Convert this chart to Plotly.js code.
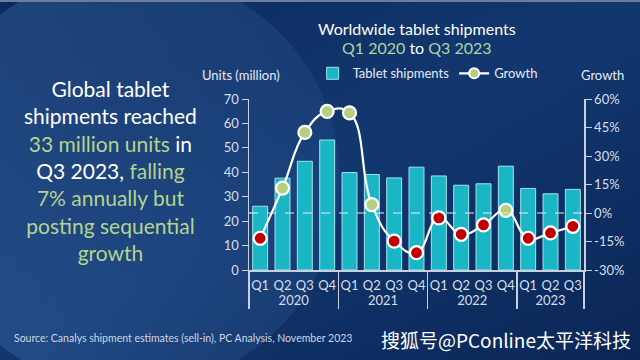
<!DOCTYPE html>
<html><head><meta charset="utf-8">
<script src="https://cdn.plot.ly/plotly-3.0.1.min.js"></script>
<style>html,body{margin:0;padding:0;background:#0f2f66;}#chart{width:640px;height:360px;}</style>
</head><body><div id="chart"></div>
<script>
const years = ['2020','2020','2020','2020','2021','2021','2021','2021','2022','2022','2022','2022','2023','2023','2023'];
const quarters = ['Q1','Q2','Q3','Q4','Q1','Q2','Q3','Q4','Q1','Q2','Q3','Q4','Q1','Q2','Q3'];
const shipments = [26.1,37.6,44.5,53.2,39.9,39.1,37.7,42.1,38.5,34.7,35.3,42.5,33.4,31.2,33.0];
const growth = [-13.3,13.1,42.4,53.5,52.7,4.4,-14.8,-20.9,-2.6,-11.2,-6.3,1.4,-13.3,-10.5,-7.0];
const unitTicks = [0,10,20,30,40,50,60,70];
const growthTicks = [-30,-15,0,15,30,45,60];

const GREEN = '#b5d07e', RED = '#c00000', TEAL = '#1bb6c6';
const FONT = 'Lato, "Open Sans", sans-serif';

const svg = "<svg xmlns='http://www.w3.org/2000/svg' width='640' height='360'>" +
 "<defs><linearGradient id='g' x1='0' y1='0' x2='1' y2='1'>" +
 "<stop offset='0' stop-color='#0c2a5e'/><stop offset='0.5' stop-color='#12376f'/><stop offset='1' stop-color='#0a2656'/></linearGradient>" +
 "<linearGradient id='h' x1='0' y1='0' x2='1' y2='0'><stop offset='0' stop-color='#4070b0' stop-opacity='0.4'/><stop offset='1' stop-color='#4070b0' stop-opacity='0.15'/></linearGradient></defs>" +
 "<rect width='640' height='360' fill='url(#g)'/>" +
 "<circle cx='130' cy='180' r='210' fill='url(#h)'/>" +
 "<rect x='0' y='0' width='640' height='2' fill='#6b7d99'/>" +
 "</svg>";
const bgSrc = 'data:image/svg+xml;charset=utf-8,' + encodeURIComponent(svg);

const traces = [
  {
    type: 'bar', name: 'Tablet shipments',
    x: [years, quarters], y: shipments,
    marker: {color: TEAL, line: {color: '#9fe3ea', width: 1}},
    hoverinfo: 'skip'
  },
  {
    type: 'scatter', mode: 'lines+markers', name: 'Growth', showlegend: false,
    x: [years, quarters], y: growth, yaxis: 'y2',
    line: {color: '#ffffff', width: 2.2, shape: 'spline', smoothing: 1.3},
    marker: {size: 13, color: growth.map(v => v >= 0 ? GREEN : RED), line: {color: '#ffffff', width: 2.2}},
    hoverinfo: 'skip', cliponaxis: false
  },
  {
    type: 'scatter', mode: 'lines+markers', name: 'Growth',
    x: [[years[0]], [quarters[0]]], y: [null], yaxis: 'y2',
    line: {color: '#ffffff', width: 2.2},
    marker: {size: 10, color: GREEN, line: {color: '#ffffff', width: 2}},
    hoverinfo: 'skip'
  }
];

const tickColor = '#d8dfea';
const layout = {
  width: 640, height: 360,
  margin: {l: 249, r: 56, t: 99, b: 90},
  paper_bgcolor: '#0f2f66', plot_bgcolor: 'rgba(0,0,0,0)',
  font: {family: FONT, color: tickColor, size: 13},
  bargap: 0.33,
  showlegend: true,
  legend: {orientation: 'h', x: 0.19, y: 1.15, xanchor: 'left', yanchor: 'middle',
           font: {size: 13, color: '#e6ebf3'}, bgcolor: 'rgba(0,0,0,0)', traceorder: 'normal'},
  xaxis: {
    type: 'multicategory', showgrid: false, zeroline: false, autorange: false,
    range: [-0.5, quarters.length - 0.5],
    showline: true, linecolor: '#c8d0de', linewidth: 1.5,
    showdividers: true, dividercolor: '#c8d0de', dividerwidth: 1.5,
    tickfont: {size: 13, color: tickColor}, ticks: '', tickangle: 0, ticklabelstandoff: 3
  },
  yaxis: {
    range: [0, 70], tickvals: unitTicks, showgrid: false, zeroline: false,
    showline: true, linecolor: '#c8d0de', linewidth: 1.5,
    ticks: 'outside', ticklen: 6, tickcolor: '#c8d0de',
    tickfont: {size: 13, color: tickColor}
  },
  yaxis2: {
    overlaying: 'y', side: 'right', range: [-30, 60], tickmode: 'array',
    tickvals: growthTicks, ticktext: growthTicks.map(v => v + '%'),
    showgrid: false, zeroline: false,
    showline: true, linecolor: '#c8d0de', linewidth: 1.5,
    ticks: 'outside', ticklen: 6, tickcolor: '#c8d0de',
    tickfont: {size: 13, color: tickColor}
  },
  shapes: [
    {type: 'line', xref: 'paper', x0: 0, x1: 1, yref: 'y2', y0: 0, y1: 0,
     line: {color: '#e8eef5', width: 1.2, dash: 'dash'}, layer: 'above'}
  ],
  images: [
    {source: bgSrc, xref: 'paper', yref: 'paper', x: -249/335, y: 270/171,
     sizex: 640/335, sizey: 360/171, xanchor: 'left', yanchor: 'top',
     sizing: 'stretch', layer: 'below'}
  ],
  annotations: [
    {xref: 'paper', yref: 'paper', x: (417-249)/335, y: (270-29)/171, showarrow: false,
     text: 'Worldwide tablet shipments', font: {size: 16, color: '#ffffff'}, xanchor: 'center', yanchor: 'middle'},
    {xref: 'paper', yref: 'paper', x: (417-249)/335, y: (270-47)/171, showarrow: false,
     text: '<span style="color:#a9d6a4">Q1 2020</span> to <span style="color:#a9d6a4">Q3 2023</span>',
     font: {size: 16, color: '#ffffff'}, xanchor: 'center', yanchor: 'middle'},
    {xref: 'paper', yref: 'paper', x: (241-249)/335, y: (270-75)/171, showarrow: false,
     text: 'Units (million)', font: {size: 13, color: '#e6ebf3'}, xanchor: 'center', yanchor: 'middle'},
    {xref: 'paper', yref: 'paper', x: (602-249)/335, y: (270-75)/171, showarrow: false,
     text: 'Growth', font: {size: 13, color: '#e6ebf3'}, xanchor: 'center', yanchor: 'middle'},
    {xref: 'paper', yref: 'paper', x: (110-249)/335, y: (270-170)/171, showarrow: false,
     text: 'Global tablet<br>shipments reached<br><span style="color:#b3d48d">33 million units</span> in<br>Q3 2023, <span style="color:#b3d48d">falling</span><br><span style="color:#b3d48d">7% annually but</span><br><span style="color:#b3d48d">posting sequential</span><br><span style="color:#b3d48d">growth</span>',
     font: {size: 21, color: '#ffffff'}, xanchor: 'center', yanchor: 'middle', align: 'center'},
    {xref: 'paper', yref: 'paper', x: (12-249)/335, y: (270-338)/171, showarrow: false,
     text: 'Source: Canalys shipment estimates (sell-in), PC Analysis, November 2023',
     font: {size: 10.5, color: '#cdd5e2'}, xanchor: 'left', yanchor: 'middle'},
    {xref: 'paper', yref: 'paper', x: (633-249)/335, y: (270-339)/171, showarrow: false,
     text: '搜狐号@PConline太平洋科技',
     font: {size: 19, color: '#ffffff', family: '"Noto Sans CJK SC", sans-serif'}, xanchor: 'right', yanchor: 'middle'}
  ]
};

Plotly.newPlot('chart', traces, layout, {staticPlot: true, displayModeBar: false});
</script>
</body></html>
